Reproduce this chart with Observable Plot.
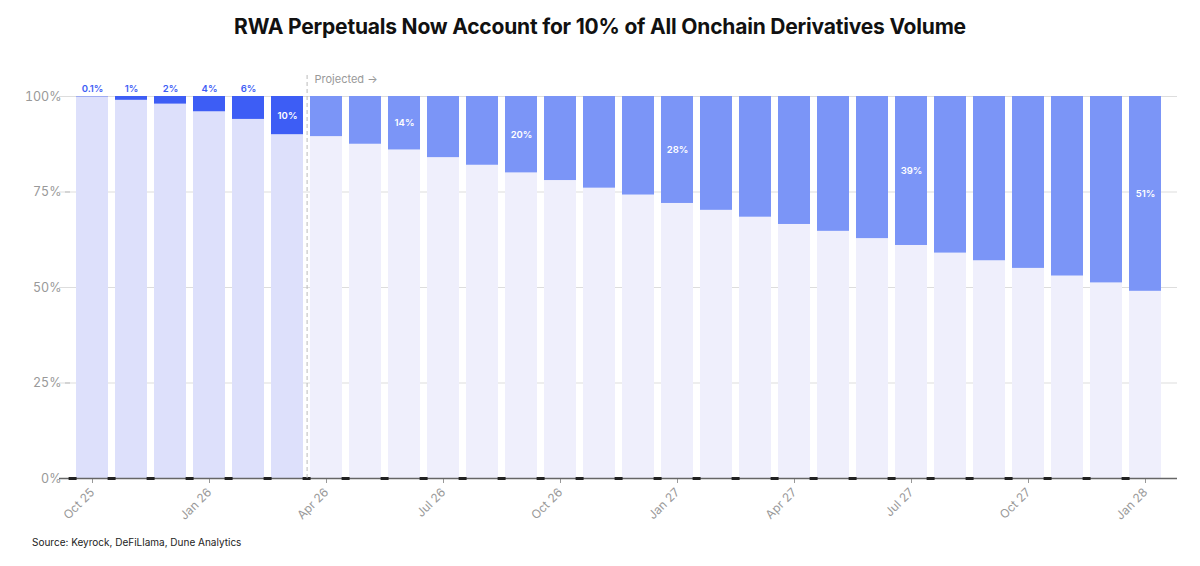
<!DOCTYPE html>
<html>
<head>
<meta charset="utf-8">
<script src="https://cdn.jsdelivr.net/npm/d3@7"></script>
<script src="https://cdn.jsdelivr.net/npm/@observablehq/plot@0.6"></script>
<style>
  body { margin: 0; background: #fff; font-family: Inter, "Noto Sans", sans-serif; }
  #wrap { width: 1200px; }
  h1 { margin: 14px 0 0 0; height: 40px; text-align: center; font-size: 21px; font-weight: 700; color: #111; letter-spacing: -0.2px; }
  .src { font-size: 10px; color: #222; margin: 2px 0 0 32px; }
</style>
</head>
<body>
<div id="wrap">
  <h1>RWA Perpetuals Now Account for 10% of All Onchain Derivatives Volume</h1>
  <div id="chart"></div>
  <div class="src">Source: Keyrock, DeFiLlama, Dune Analytics</div>
</div>
<script>
const months = ['2025-10','2025-11','2025-12','2026-01','2026-02','2026-03','2026-04','2026-05','2026-06','2026-07','2026-08','2026-09','2026-10','2026-11','2026-12','2027-01','2027-02','2027-03','2027-04','2027-05','2027-06','2027-07','2027-08','2027-09','2027-10','2027-11','2027-12','2028-01']
const rwaShare = [0.1, 1, 2, 4, 6, 10, 10.5, 12.5, 14, 16, 18, 20, 22, 24, 25.8, 28, 29.8, 31.6, 33.5, 35.3, 37.2, 39, 41, 43, 45, 47, 48.8, 51]
const labelText = ['0.1%','1%','2%','4%','6%','10%','','','14%','','','20%','','','','28%','','','','','','39%','','','','','','51%']
const tickMonths = ['2025-10','2026-01','2026-04','2026-07','2026-10','2027-01','2027-04','2027-07','2027-10','2028-01']
const actualCount = 6

const mon = ['Jan','Feb','Mar','Apr','May','Jun','Jul','Aug','Sep','Oct','Nov','Dec']
const fmtMonth = m => mon[+m.slice(5) - 1] + ' ' + m.slice(2, 4)

const data = months.map((m, i) => ({
  m, v: rwaShare[i], label: labelText[i], actual: i < actualCount
}))

const half = -19.4 // half a band step, to sit in the gaps

const chart = Plot.plot({
  width: 1200,
  height: 480,
  marginLeft: 59,
  marginRight: 23,
  marginTop: 42,
  marginBottom: 56,
  style: { fontFamily: 'Inter, "Noto Sans", sans-serif', fontSize: '12px', color: '#999' },
  x: { type: 'band', domain: months, padding: 0.18, ticks: tickMonths, tickFormat: fmtMonth, tickRotate: -45, label: null, tickSize: 5 },
  y: { domain: [0, 100], label: null, axis: null },
  marks: [
    Plot.axisY([0, 25, 50, 75, 100], { tickFormat: d => d + '%', tickSize: 5, dx: 11, label: null, fontSize: 12.5 }),
    Plot.gridY([0, 25, 50, 75, 100], { stroke: '#ddd', strokeOpacity: 1 }),
    Plot.barY(data, { x: 'm', y1: 0, y2: d => 100 - d.v, fill: d => d.actual ? '#dde0fb' : '#efeffc' }),
    Plot.barY(data, { x: 'm', y1: d => 100 - d.v, y2: 100, fill: d => d.actual ? '#3d5df5' : '#7b95f7' }),
    Plot.ruleY([0], { stroke: '#666', strokeWidth: 1.5 }),
    Plot.tickY(data, { x: 'm', y: 0, stroke: '#222', strokeWidth: 3, dx: half, insetLeft: 12, insetRight: 12 }),
    Plot.ruleX(['2026-04'], { y1: 0, y2: 106, stroke: '#bbb', strokeDasharray: '4,3', dx: half }),
    Plot.text(['Projected →'], { x: () => '2026-04', y: 104.5, dx: -12, textAnchor: 'start', fill: '#999', fontSize: 11 }),
    Plot.text(data.filter(d => d.label && d.v < 8), { x: 'm', y: 100, dy: -8, text: 'label', fill: '#3d5df5', fontSize: 9.5, fontWeight: 600 }),
    Plot.text(data.filter(d => d.label && d.v >= 8), { x: 'm', y: d => 100 - d.v / 2, text: 'label', fill: '#fff', fontSize: 9.5, fontWeight: 600 })
  ]
})

d3.select('#chart').append(() => chart)
</script>
</body>
</html>
